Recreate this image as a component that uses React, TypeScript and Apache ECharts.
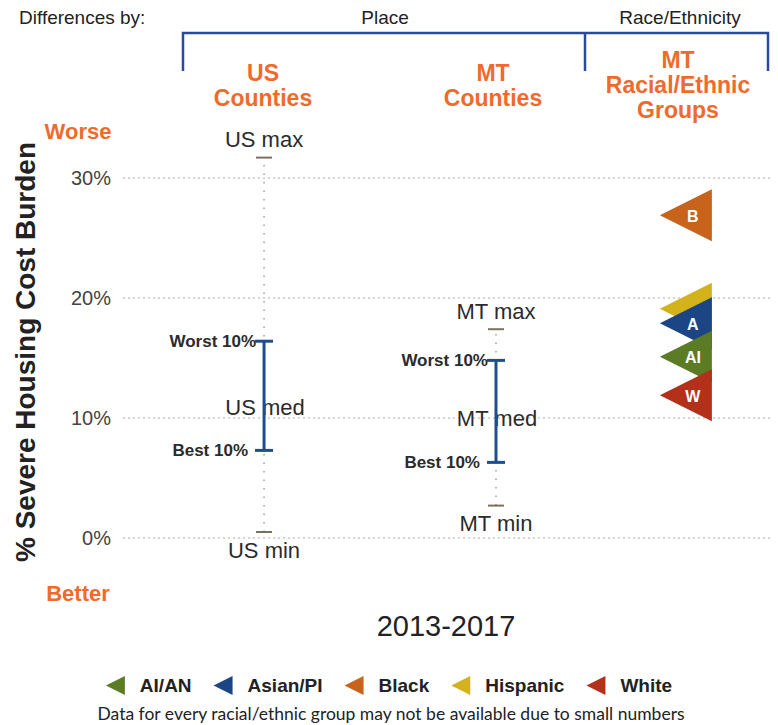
import React, { useEffect, useRef } from "react";
import * as echarts from "echarts";

// ---- data ----
const COLUMNS = ["US", "MT"];
const rangeMin = [0.5, 2.7];
const rangeBest = [7.3, 6.3];
const rangeMed = [10.9, 10.0];
const rangeWorst = [16.4, 14.8];
const rangeMax = [31.7, 17.4];

const groups = ["AI/AN", "Asian/PI", "Black", "Hispanic", "White"];
const groupLetters = ["AI", "A", "B", "", "W"];
const groupValues = [15.1, 17.9, 26.9, 19.1, 11.9];

const yTicks = [0, 10, 20, 30];
const period = "2013-2017";

// ---- layout / style (not data) ----
const COL_X = [0.218, 0.5765];
const RACE_X = 0.87;
const groupColors = ["#5b7c24", "#1b4585", "#c7631a", "#d3b21c", "#b3301b"];
const groupZ = [5, 4, 3, 3, 6];
const ORANGE = "#ef6a2c";
const FONT = "Liberation Sans, Arial, sans-serif";

export default function App() {
  const ref = useRef<HTMLDivElement>(null);
  useEffect(() => {
    if (!ref.current) return;
    const chart = echarts.init(ref.current, null, { renderer: "svg" });

    const rangeData = COLUMNS.map((c, i) => [
      COL_X[i], rangeMin[i], rangeBest[i], rangeMed[i], rangeWorst[i], rangeMax[i], i,
    ]);

    const rangeSeries: any = {
      type: "custom",
      name: "range",
      clip: false,
      silent: true,
      data: rangeData,
      renderItem: (params: any, api: any) => {
        const x = api.value(0);
        const idx = api.value(6);
        const name = COLUMNS[idx];
        const pt = (v: number) => api.coord([x, v]);
        const pMin = pt(api.value(1));
        const pBest = pt(api.value(2));
        const pMed = pt(api.value(3));
        const pWorst = pt(api.value(4));
        const pMax = pt(api.value(5));
        const cx = pMin[0];
        const txt = (text: string, tx: number, ty: number, font: string, align: string) => ({
          type: "text",
          x: tx,
          y: ty,
          style: { text, fill: "#2b2b2b", font, align, verticalAlign: "middle" },
        });
        const big = `22px ${FONT}`;
        const small = `bold 17px ${FONT}`;
        return {
          type: "group",
          children: [
            {
              type: "line",
              shape: { x1: cx, y1: pMin[1], x2: cx, y2: pMax[1] },
              style: { stroke: "#9c9c9c", lineWidth: 1.5, lineDash: [1.5, 7] },
            },
            {
              type: "line",
              shape: { x1: cx - 8, y1: pMax[1], x2: cx + 8, y2: pMax[1] },
              style: { stroke: "#7d7060", lineWidth: 2 },
            },
            {
              type: "line",
              shape: { x1: cx - 8, y1: pMin[1], x2: cx + 8, y2: pMin[1] },
              style: { stroke: "#7d7060", lineWidth: 2 },
            },
            txt(`${name} med`, cx + 1, pMed[1], big, "center"),
            txt(`${name} max`, cx, pMax[1] - 18, big, "center"),
            txt(`${name} min`, cx, pMin[1] + 18, big, "center"),
            txt("Worst 10%", cx - 8, pWorst[1], small, "right"),
            txt("Best 10%", cx - 16, pBest[1], small, "right"),
            {
              type: "line",
              shape: { x1: cx, y1: pWorst[1], x2: cx, y2: pBest[1] },
              style: { stroke: "#1f4e8c", lineWidth: 3 },
            },
            {
              type: "line",
              shape: { x1: cx - 9, y1: pWorst[1], x2: cx + 9, y2: pWorst[1] },
              style: { stroke: "#1f4e8c", lineWidth: 3 },
            },
            {
              type: "line",
              shape: { x1: cx - 9, y1: pBest[1], x2: cx + 9, y2: pBest[1] },
              style: { stroke: "#1f4e8c", lineWidth: 3 },
            },
          ],
        };
      },
    };

    const groupSeries = groups.map((g, i) => ({
      type: "custom",
      name: g,
      clip: false,
      silent: true,
      z: groupZ[i],
      itemStyle: { color: groupColors[i] },
      data: [[RACE_X, groupValues[i]]],
      renderItem: (params: any, api: any) => {
        const p = api.coord([api.value(0), api.value(1)]);
        const half = 26;
        const right = p[0] + 26;
        const left = p[0] - 26;
        const children: any[] = [
          {
            type: "polygon",
            shape: { points: [[right, p[1] - half], [right, p[1] + half], [left, p[1]]] },
            style: { fill: groupColors[i] },
          },
        ];
        if (groupLetters[i]) {
          children.push({
            type: "text",
            x: p[0] + 7,
            y: p[1] + 1,
            style: {
              text: groupLetters[i],
              fill: "#ffffff",
              font: `bold 16px ${FONT}`,
              align: "center",
              verticalAlign: "middle",
            },
          });
        }
        return { type: "group", children };
      },
    }));

    const orangeText = (text: string, x: number, y: number, size: number) => ({
      type: "text",
      x,
      y,
      style: {
        text,
        fill: ORANGE,
        font: `bold ${size}px ${FONT}`,
        align: "center",
        verticalAlign: "middle",
        lineHeight: 25,
      },
    });

    const option: any = {
      animation: false,
      grid: { left: 123, right: 8, top: 178, bottom: 187 },
      xAxis: { type: "value", min: 0, max: 1, show: false },
      yAxis: {
        type: "value",
        min: yTicks[0],
        max: yTicks[yTicks.length - 1],
        interval: 10,
        axisLine: { show: false },
        axisTick: { show: false },
        axisLabel: {
          formatter: "{value}%",
          color: "#444",
          fontSize: 20,
          fontFamily: FONT,
          margin: 12,
        },
        splitLine: { lineStyle: { color: "#c8c8c8", type: [2, 3], width: 1.5 } },
      },
      legend: {
        data: groups,
        top: 671,
        left: "center",
        icon: "path://M20,0 L20,20 L0,10 Z",
        itemWidth: 19,
        itemHeight: 20,
        itemGap: 22,
        selectedMode: false,
        textStyle: {
          fontSize: 19,
          fontWeight: "bold",
          fontFamily: FONT,
          color: "#222",
          padding: [0, 0, 0, 10],
        },
      },
      graphic: [
        {
          type: "text",
          x: 19,
          y: 17,
          style: { text: "Differences by:", fill: "#222", font: `19px ${FONT}`, verticalAlign: "middle" },
        },
        {
          type: "text",
          x: 385,
          y: 17,
          style: { text: "Place", fill: "#222", font: `19px ${FONT}`, align: "center", verticalAlign: "middle" },
        },
        {
          type: "text",
          x: 680,
          y: 17,
          style: { text: "Race/Ethnicity", fill: "#222", font: `19px ${FONT}`, align: "center", verticalAlign: "middle" },
        },
        {
          type: "polyline",
          shape: { points: [[183, 71], [183, 33], [768, 33], [768, 71]] },
          style: { stroke: "#2a4b9b", lineWidth: 2.5, fill: null },
        },
        {
          type: "line",
          shape: { x1: 585, y1: 33, x2: 585, y2: 71 },
          style: { stroke: "#2a4b9b", lineWidth: 2.5 },
        },
        orangeText("US\nCounties", 263, 85, 23),
        orangeText("MT\nCounties", 493, 85, 23),
        orangeText("MT\nRacial/Ethnic\nGroups", 678, 85, 23),
        orangeText("Worse", 78, 131, 22),
        orangeText("Better", 78, 593, 22),
        {
          type: "text",
          x: 25,
          y: 352,
          rotation: Math.PI / 2,
          style: {
            text: "% Severe Housing Cost Burden",
            fill: "#222",
            font: `bold 28px ${FONT}`,
            align: "center",
            verticalAlign: "middle",
          },
        },
        {
          type: "text",
          x: 446,
          y: 626,
          style: { text: period, fill: "#222", font: `29px ${FONT}`, align: "center", verticalAlign: "middle" },
        },
        {
          type: "text",
          x: 391,
          y: 713,
          style: {
            text: "Data for every racial/ethnic group may not be available due to small numbers",
            fill: "#222",
            font: `17.5px Lato, sans-serif`,
            align: "center",
            verticalAlign: "middle",
          },
        },
      ],
      series: [rangeSeries, ...groupSeries],
    };

    chart.setOption(option);
    return () => chart.dispose();
  }, []);

  return <div ref={ref} style={{ width: 778, height: 725, position: "absolute", left: 0, top: 0 }} />;
}
